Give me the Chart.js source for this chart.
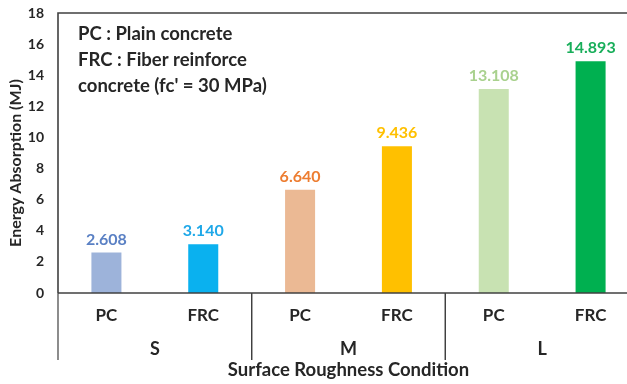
<!DOCTYPE html>
<html>
<head>
<meta charset="utf-8">
<script src="https://cdn.jsdelivr.net/npm/chart.js@4/dist/chart.umd.min.js"></script>
<style>
  html, body { margin: 0; padding: 0; background: #ffffff; overflow: hidden; }
  #wrap { width: 645px; height: 384px; }
</style>
</head>
<body>
<div id="wrap"><canvas id="chart" width="645" height="384"></canvas></div>
<script>
// Energy absorption by surface roughness condition
const categories = ['PC', 'FRC', 'PC', 'FRC', 'PC', 'FRC'];
const groups = ['S', 'M', 'L'];
const energyMJ = [2.608, 3.140, 6.640, 9.436, 13.108, 14.893];
const yTicks = [0, 2, 4, 6, 8, 10, 12, 14, 16, 18];
const noteLines = ['PC : Plain concrete', 'FRC : Fiber reinforce', "concrete (fc' = 30 MPa)"];
const xTitle = 'Surface Roughness Condition';
const yTitle = 'Energy Absorption (MJ)';

const barColors = ['#9db3da', '#0ab1ef', '#ebb994', '#ffc000', '#c8e2b2', '#00b050'];
const labelColors = ['#5a80c4', '#1fa8e8', '#ed7d31', '#ffc000', '#a9d18e', '#18ae5a'];

const FONT = 'Lato, "Open Sans", sans-serif';
const INK = '#262626';

const overlay = {
  id: 'overlay',
  afterDatasetsDraw(chart) {
    const ctx = chart.ctx;
    const x = chart.scales.x;
    const area = chart.chartArea;
    ctx.save();

    // frame around the plot
    ctx.strokeStyle = '#404040';
    ctx.lineWidth = 1.6;
    ctx.beginPath();
    ctx.moveTo(area.left, area.bottom);
    ctx.lineTo(area.left, area.top);
    ctx.lineTo(area.right, area.top);
    ctx.stroke();
    ctx.lineWidth = 1.4;
    ctx.beginPath();
    ctx.moveTo(area.left, area.bottom);
    ctx.lineTo(area.right, area.bottom);
    ctx.stroke();

    // value labels above each bar
    const meta = chart.getDatasetMeta(0);
    ctx.font = 'bold 16px ' + FONT;
    ctx.textAlign = 'center';
    ctx.textBaseline = 'bottom';
    meta.data.forEach((bar, i) => {
      ctx.fillStyle = labelColors[i];
      ctx.fillText(energyMJ[i].toFixed(3), bar.x, bar.y - 5);
    });

    // group separators and group labels
    const per = categories.length / groups.length;
    const half = (x.getPixelForValue(1) - x.getPixelForValue(0)) / 2;
    ctx.strokeStyle = '#404040';
    ctx.lineWidth = 1.2;
    ctx.fillStyle = INK;
    ctx.font = 'bold 18px ' + FONT;
    ctx.textBaseline = 'middle';
    groups.forEach((g, gi) => {
      const first = gi * per, last = first + per - 1;
      const l = x.getPixelForValue(first) - half;
      const r = x.getPixelForValue(last) + half;
      ctx.beginPath();
      ctx.moveTo(l, area.bottom);
      ctx.lineTo(l, area.bottom + 67);
      ctx.stroke();
      ctx.beginPath();
      ctx.moveTo(r, area.bottom);
      ctx.lineTo(r, area.bottom + 67);
      ctx.stroke();
      ctx.fillText(g, (l + r) / 2, area.bottom + 56);
    });

    // axis titles
    ctx.font = 'bold 18.5px ' + FONT;
    ctx.fillText(xTitle, (area.left + area.right) / 2, area.bottom + 77);
    ctx.save();
    ctx.translate(16, 163);
    ctx.rotate(-Math.PI / 2);
    ctx.font = 'bold 16px ' + FONT;
    ctx.fillText(yTitle, 0, 0);
    ctx.restore();

    // notes box text
    ctx.textAlign = 'left';
    ctx.font = 'bold 18.5px ' + FONT;
    noteLines.forEach((t, i) => ctx.fillText(t, area.left + 20, area.top + 21 + i * 26));

    ctx.restore();
  }
};

new Chart(document.getElementById('chart'), {
  type: 'bar',
  data: {
    labels: categories,
    datasets: [{
      data: energyMJ,
      backgroundColor: barColors,
      borderWidth: 0,
      categoryPercentage: 1,
      barPercentage: 0.31
    }]
  },
  options: {
    responsive: false,
    animation: false,
    events: [],
    layout: { padding: { top: 13, right: 6, left: 0, bottom: 0 } },
    plugins: { legend: { display: false }, tooltip: { enabled: false } },
    scales: {
      x: {
        grid: { display: false, drawTicks: false },
        border: { display: false },
        ticks: { color: INK, font: { family: FONT, weight: 'bold', size: 17 }, padding: 12, maxRotation: 0 },
        afterFit(scale) {
          scale.height = 91;
          scale.paddingLeft = 0;
          scale.paddingRight = 0;
        }
      },
      y: {
        min: 0,
        max: 18,
        afterBuildTicks(scale) { scale.ticks = yTicks.map(v => ({ value: v })); },
        grid: { display: false, drawTicks: false },
        border: { display: false },
        ticks: { color: INK, font: { family: FONT, weight: 'bold', size: 14 }, padding: 14 },
        afterFit(scale) {
          scale.width = 58;
          scale.paddingTop = 0;
          scale.paddingBottom = 0;
        }
      }
    }
  },
  plugins: [overlay]
});
</script>
</body>
</html>
